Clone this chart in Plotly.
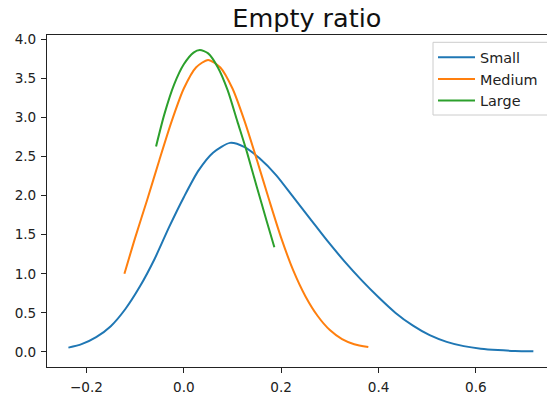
import plotly.graph_objects as go

# ---- data ----
small_x = [-0.237, -0.21, -0.18, -0.15, -0.12, -0.09, -0.06, -0.03, 0.0, 0.03,
           0.06, 0.095, 0.125, 0.155, 0.19, 0.225, 0.26, 0.295, 0.33, 0.365,
           0.40, 0.435, 0.47, 0.505, 0.54, 0.575, 0.61, 0.645, 0.68, 0.718]
small_y = [0.056, 0.10, 0.19, 0.33, 0.55, 0.84, 1.19, 1.60, 1.98, 2.32,
           2.55, 2.675, 2.62, 2.48, 2.26, 1.98, 1.70, 1.42, 1.16, 0.92,
           0.70, 0.50, 0.34, 0.215, 0.13, 0.075, 0.042, 0.024, 0.014, 0.009]

medium_x = [-0.122, -0.10, -0.075, -0.05, -0.025, 0.0, 0.025, 0.05, 0.075, 0.10,
            0.125, 0.15, 0.175, 0.20, 0.225, 0.25, 0.275, 0.30, 0.325, 0.35, 0.379]
medium_y = [1.0, 1.46, 1.95, 2.46, 2.95, 3.37, 3.64, 3.735, 3.64, 3.37,
            2.95, 2.46, 1.95, 1.46, 1.04, 0.71, 0.46, 0.28, 0.165, 0.10, 0.064]

large_x = [-0.057, -0.04, -0.02, 0.0, 0.02, 0.033, 0.05, 0.07, 0.09, 0.11,
           0.13, 0.15, 0.17, 0.186]
large_y = [2.63, 3.04, 3.42, 3.68, 3.83, 3.863, 3.82, 3.64, 3.35, 2.95,
           2.55, 2.11, 1.68, 1.34]

series_names = ["Small", "Medium", "Large"]
series_colors = ["#1f77b4", "#ff7f0e", "#2ca02c"]

x_tickvals = [-0.2, 0.0, 0.2, 0.4, 0.6]
x_ticktext = ["\u22120.2", "0.0", "0.2", "0.4", "0.6"]
y_tickvals = [0.0, 0.5, 1.0, 1.5, 2.0, 2.5, 3.0, 3.5, 4.0]
y_ticktext = ["0.0", "0.5", "1.0", "1.5", "2.0", "2.5", "3.0", "3.5", "4.0"]

title_text = "Empty ratio"

# ---- figure ----
fig = go.Figure()
for name, xs, ys, col in zip(series_names,
                             [small_x, medium_x, large_x],
                             [small_y, medium_y, large_y],
                             series_colors):
    fig.add_trace(go.Scatter(x=xs, y=ys, mode="lines", name=name, legendgroup=name,
                             line=dict(color=col, width=2, shape="spline", smoothing=0.7)))

font_family = "DejaVu Sans"
fig.update_layout(
    width=547, height=396,
    margin=dict(l=47, r=0, t=35, b=29, pad=0),
    paper_bgcolor="white", plot_bgcolor="white",
    font=dict(family=font_family, size=13.6, color="#222"),
    title=dict(text=title_text, x=0.561, xref="container", xanchor="center",
               y=0.955, yref="container", yanchor="middle",
               font=dict(family=font_family, size=25.5, color="#111")),
    showlegend=True,
    legend=dict(x=0.772, y=0.981, xanchor="left", yanchor="top",
                bgcolor="rgba(0,0,0,0)", borderwidth=0,
                font=dict(family=font_family, size=14.4, color="#222"),
                tracegroupgap=0, itemwidth=37),
    shapes=[dict(type="rect", xref="paper", yref="paper",
                 x0=0.772, x1=1.02, y0=0.759, y1=0.978,
                 line=dict(color="#cccccc", width=1),
                 fillcolor="rgba(255,255,255,0.8)", layer="above")],
)
fig.update_xaxes(range=[-0.281, 0.746], tickvals=x_tickvals, ticktext=x_ticktext,
                 showgrid=False, zeroline=False, showline=True, linecolor="#222",
                 linewidth=1, mirror=True, ticks="outside", ticklen=5, tickcolor="#222",
                 tickwidth=1, ticklabelstandoff=3)
fig.update_yaxes(range=[-0.192, 4.055], tickvals=y_tickvals, ticktext=y_ticktext,
                 showgrid=False, zeroline=False, showline=True, linecolor="#222",
                 linewidth=1, mirror=False, ticks="outside", ticklen=5, tickcolor="#222",
                 tickwidth=1, ticklabelstandoff=2)

fig.write_html("out.html")
